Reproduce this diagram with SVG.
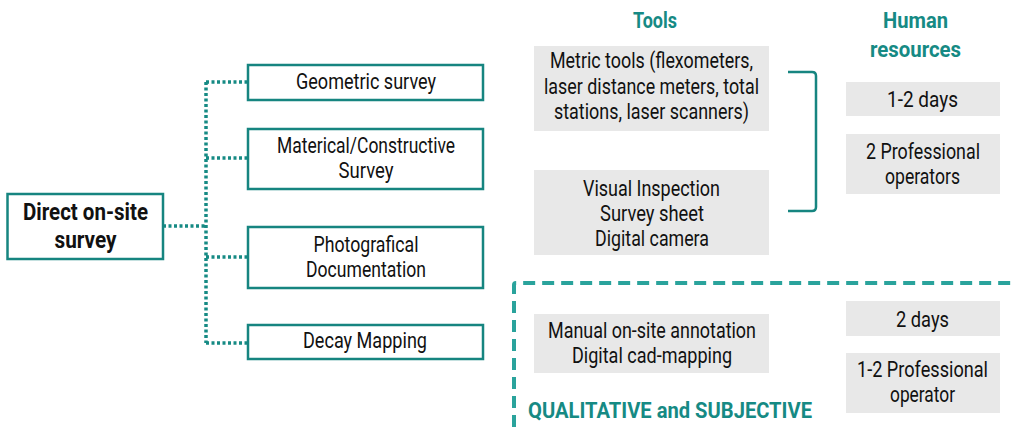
<svg xmlns="http://www.w3.org/2000/svg" width="1016" height="427" viewBox="0 0 1016 427">
  <style>
    text { font-family: "Roboto", "Liberation Sans", sans-serif; font-size: 22px; fill: #111; text-anchor: middle; }
    .node { fill: #fff; stroke: #168580; stroke-width: 2.5; }
    .tool { fill: #e8e8e8; }
    .head { fill: #168a84; font-weight: bold; }
    .root { font-weight: bold; font-size: 23px; }
    .link { fill: none; stroke: #168a84; stroke-width: 3.5; stroke-dasharray: 3 2.5; }
  </style>

  <!-- dotted tree connectors -->
  <g id="connectors">
    <path class="link" d="M163 226 H206 M206 82 V343 M206 82 H248 M206 158 H248 M206 257 H248 M206 343 H248"/>
  </g>

  <g id="root">
    <rect class="node" x="7.5" y="194" width="155.5" height="65"/>
    <text class="root" x="85.5" y="220" textLength="125" lengthAdjust="spacingAndGlyphs">Direct on-site</text>
    <text class="root" x="85.5" y="248" textLength="62" lengthAdjust="spacingAndGlyphs">survey</text>
  </g>

  <g id="geometric">
    <rect class="node" x="248" y="65" width="235" height="35"/>
    <text x="366" y="89" textLength="140" lengthAdjust="spacingAndGlyphs">Geometric survey</text>
  </g>

  <g id="material">
    <rect class="node" x="248" y="129" width="235" height="60"/>
    <text x="366" y="153" textLength="178" lengthAdjust="spacingAndGlyphs">Materical/Constructive</text>
    <text x="366" y="178" textLength="55" lengthAdjust="spacingAndGlyphs">Survey</text>
  </g>

  <g id="photo">
    <rect class="node" x="248" y="227" width="235" height="61"/>
    <text x="366" y="252" textLength="105" lengthAdjust="spacingAndGlyphs">Photografical</text>
    <text x="366" y="277" textLength="120" lengthAdjust="spacingAndGlyphs">Documentation</text>
  </g>

  <g id="decay">
    <rect class="node" x="248" y="325" width="235" height="34"/>
    <text x="365" y="348" textLength="124" lengthAdjust="spacingAndGlyphs">Decay Mapping</text>
  </g>

  <!-- column headings -->
  <g id="headings">
    <text class="head" x="655" y="28" textLength="44" lengthAdjust="spacingAndGlyphs">Tools</text>
    <text class="head" x="915.5" y="28" textLength="65" lengthAdjust="spacingAndGlyphs">Human</text>
    <text class="head" x="915.5" y="57" textLength="91" lengthAdjust="spacingAndGlyphs">resources</text>
  </g>

  <g id="tools-metric">
    <rect class="tool" x="534" y="46" width="235" height="85"/>
    <text x="651.5" y="68" textLength="203" lengthAdjust="spacingAndGlyphs">Metric tools (flexometers,</text>
    <text x="651.5" y="94" textLength="215" lengthAdjust="spacingAndGlyphs">laser distance meters, total</text>
    <text x="651.5" y="119" textLength="195" lengthAdjust="spacingAndGlyphs">stations, laser scanners)</text>
  </g>

  <g id="tools-visual">
    <rect class="tool" x="534" y="170" width="235" height="85"/>
    <text x="651.5" y="196" textLength="137" lengthAdjust="spacingAndGlyphs">Visual Inspection</text>
    <text x="652" y="221" textLength="104" lengthAdjust="spacingAndGlyphs">Survey sheet</text>
    <text x="652" y="246" textLength="114" lengthAdjust="spacingAndGlyphs">Digital camera</text>
  </g>

  <!-- bracket grouping both tool sets -->
  <path id="bracket" d="M788 72 H812 Q816 72 816 76 V207 Q816 211 812 211 H788" fill="none" stroke="#168580" stroke-width="2.5"/>

  <g id="hr-days">
    <rect class="tool" x="846" y="82" width="154" height="34"/>
    <text x="922.5" y="107" textLength="71" lengthAdjust="spacingAndGlyphs">1-2 days</text>
  </g>

  <g id="hr-operators">
    <rect class="tool" x="846" y="134" width="154" height="60"/>
    <text x="923" y="159" textLength="114" lengthAdjust="spacingAndGlyphs">2 Professional</text>
    <text x="922.5" y="184" textLength="75" lengthAdjust="spacingAndGlyphs">operators</text>
  </g>

  <!-- qualitative section -->
  <g id="qualitative">
    <path d="M514 427 V285 Q514 283 516 283 H1016" fill="none" stroke="#2aa39c" stroke-width="4" stroke-dasharray="12 7"/>
    <text class="head" x="528" y="418" style="text-anchor:start" textLength="284" lengthAdjust="spacingAndGlyphs">QUALITATIVE and SUBJECTIVE</text>
  </g>

  <g id="tools-mapping">
    <rect class="tool" x="534" y="314" width="235" height="59"/>
    <text x="652" y="338" textLength="208" lengthAdjust="spacingAndGlyphs">Manual on-site annotation</text>
    <text x="652" y="363" textLength="160" lengthAdjust="spacingAndGlyphs">Digital cad-mapping</text>
  </g>

  <g id="hr-days-2">
    <rect class="tool" x="846" y="301" width="154" height="35"/>
    <text x="922.5" y="327" textLength="53" lengthAdjust="spacingAndGlyphs">2 days</text>
  </g>

  <g id="hr-operator-2">
    <rect class="tool" x="846" y="353" width="154" height="60"/>
    <text x="922.5" y="377" textLength="131" lengthAdjust="spacingAndGlyphs">1-2 Professional</text>
    <text x="922.5" y="402" textLength="65" lengthAdjust="spacingAndGlyphs">operator</text>
  </g>
</svg>
